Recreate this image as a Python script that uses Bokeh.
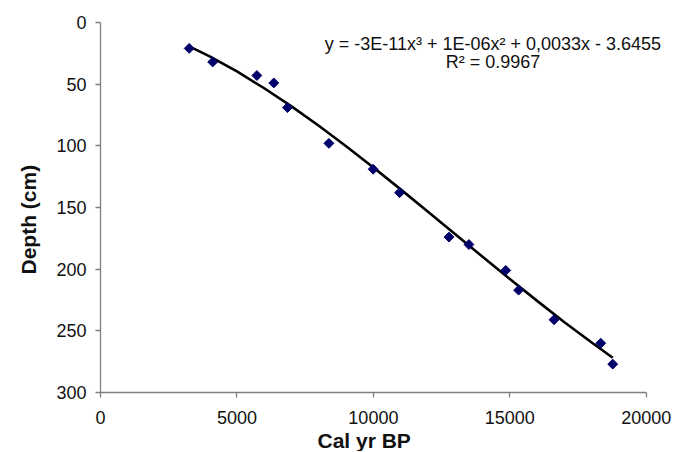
import math
from bokeh.plotting import figure
from bokeh.models import Range1d, FixedTicker, Label, ColumnDataSource, Title
from bokeh.embed import file_html
from bokeh.resources import INLINE

# Measured samples
age_cal_bp = [3250, 4110, 5730, 6350, 6850, 8370, 9990, 10960, 12770, 13500, 14850, 15320, 16620, 18330, 18770]
depth_cm = [21, 32, 43, 49, 69, 98, 119, 138, 174, 180, 201, 217, 241, 260, 277]

# Polynomial trend line
trend_age = [3250, 4000, 5000, 6000, 7000, 8000, 9000, 10000, 11000, 12000, 13000,
             14000, 15000, 16000, 17000, 18000, 18770]
trend_depth = [19.4, 27.5, 39.7, 53.3, 68.0, 83.7, 100.3, 117.6, 135.3, 153.4, 171.6,
               189.9, 208.0, 225.7, 243.0, 259.5, 271.8]

x_ticks = [0, 5000, 10000, 15000, 20000]
y_ticks = [0, 50, 100, 150, 200, 250, 300]

x_title = "Cal yr BP"
y_title = "Depth (cm)"
equation_text = "y = -3E-11x\u00b3 + 1E-06x\u00b2 + 0,0033x - 3.6455"
r2_text = "R\u00b2 = 0.9967"

FONT = "Liberation Sans"

p = figure(width=672, height=451, x_range=Range1d(0, 20960), y_range=Range1d(300, 0),
           output_backend="svg", toolbar_location=None,
           min_border_left=99, min_border_top=22, min_border_right=0, min_border_bottom=30)
p.outline_line_color = None
p.xgrid.visible = False
p.ygrid.visible = False
p.background_fill_color = "white"
p.border_fill_color = "white"

p.line(trend_age, trend_depth, line_color="black", line_width=2.6)
src = ColumnDataSource(dict(x=age_cal_bp, y=depth_cm))
p.scatter("x", "y", source=src, marker="square", size=7, angle=math.pi / 4,
          fill_color="#00006b", line_color="#00006b")

for ax in (p.xaxis[0], p.yaxis[0]):
    ax.axis_line_color = "#808080"
    ax.axis_line_width = 1.3
    ax.major_tick_line_color = "#808080"
    ax.major_tick_line_width = 1.3
    ax.major_tick_out = 5
    ax.major_tick_in = 0
    ax.minor_tick_line_color = None
    ax.major_label_text_font = FONT
    ax.major_label_text_font_size = "18px"
    ax.major_label_text_color = "#111111"

p.xaxis.ticker = FixedTicker(ticks=x_ticks)
p.yaxis.ticker = FixedTicker(ticks=y_ticks)
p.xaxis.bounds = (0, 20000)
p.xaxis.major_label_standoff = 13
p.yaxis.major_label_standoff = 9

p.add_layout(Title(text=x_title, align="left", offset=217, standoff=0,
                   text_font=FONT, text_font_style="bold", text_font_size="21px",
                   text_color="#111111"), "below")
p.add_layout(Title(text=y_title, align="left", offset=118, standoff=28,
                   text_font=FONT, text_font_style="bold", text_font_size="21px",
                   text_color="#111111"), "left")

p.add_layout(Label(x=14380, y=17.1, text=equation_text, text_align="center",
                   text_baseline="alphabetic", text_font=FONT, text_font_size="18px",
                   text_color="#111111"))
p.add_layout(Label(x=14380, y=32.1, text=r2_text, text_align="center",
                   text_baseline="alphabetic", text_font=FONT, text_font_size="18px",
                   text_color="#111111"))

open("out.html", "w").write(file_html(p, INLINE))
